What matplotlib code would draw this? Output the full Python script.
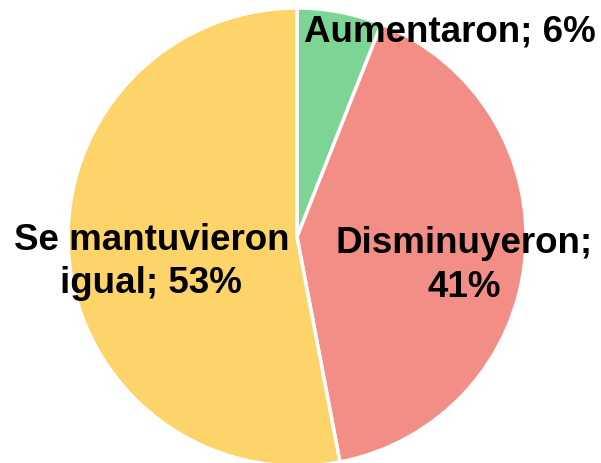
import matplotlib.pyplot as plt

# data
labels = ['Aumentaron; 6%', 'Disminuyeron;\n41%', 'Se mantuvieron\nigual; 53%']
values = [6, 41, 53]
colors = ['#7dd595', '#f28e86', '#fcd46a']

plt.rcParams['font.family'] = ['Liberation Sans', 'DejaVu Sans']

fig = plt.figure(figsize=(6.01, 4.64), dpi=100)
# pie centre at ~(297, 238) px, radius ~229 px
ax = fig.add_axes([(297 - 229) / 601, (464 - 238 - 229) / 464, 458 / 601, 458 / 464])
ax.pie(values, colors=colors, startangle=90, counterclock=False, radius=1,
       wedgeprops={'edgecolor': 'white', 'linewidth': 2.5})
ax.set_xlim(-1, 1)
ax.set_ylim(-1, 1)
ax.set_aspect('equal')
ax.axis('off')

label_pos = [(0.668, 0.90), (0.730, -0.12), (-0.636, -0.105)]
for lab, (x, y) in zip(labels, label_pos):
    ax.text(x, y, lab, ha='center', va='center', fontsize=26.5, fontweight='bold',
            linespacing=1.3, clip_on=False)

fig.savefig('out.png', dpi=100)
